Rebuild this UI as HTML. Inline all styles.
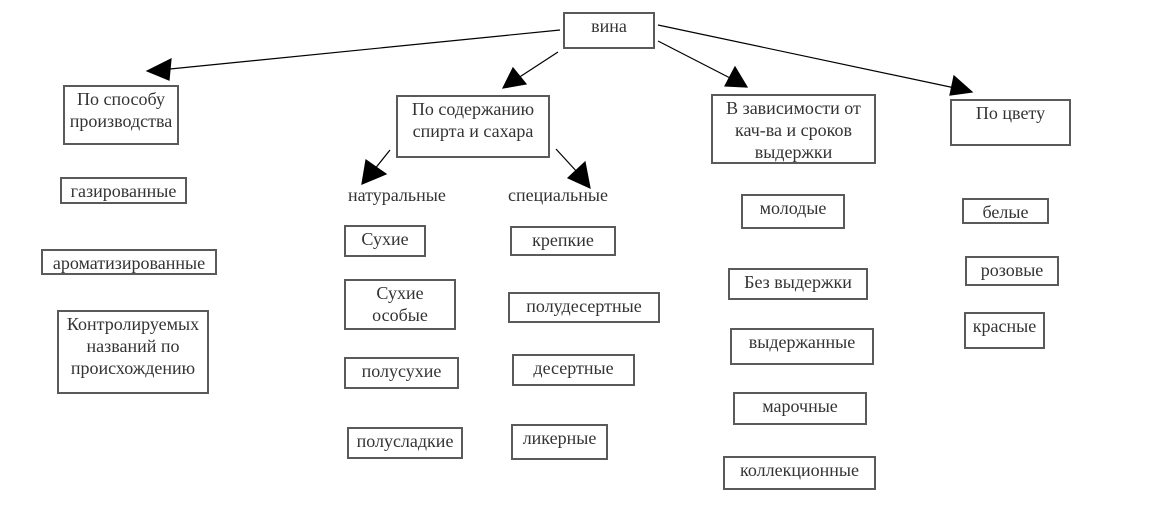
<!DOCTYPE html>
<html><head><meta charset="utf-8"><style>
body{margin:0;width:1158px;height:527px;background:#fff;position:relative;overflow:hidden}
.b{position:absolute;box-sizing:border-box;border:2px solid #5a5a5a;text-align:center;color:#333;line-height:22px;padding-top:1px;font-family:"Liberation Serif",serif;font-size:18px;white-space:nowrap}
.t{position:absolute;color:#333;font-family:"Liberation Serif",serif;font-size:18px}
svg{position:absolute;left:0;top:0}
</style></head><body>
<svg width="1158" height="527">
<g stroke="#000" stroke-width="1.2">
<line x1="560" y1="30" x2="160" y2="70"/><path d="M147,71 L171,59 L169,80 z" fill="#000"/>
<line x1="558" y1="52" x2="515" y2="80"/><path d="M503,88 L513,68 L526,84 z" fill="#000"/>
<line x1="658" y1="41" x2="732" y2="79"/><path d="M747,87 L725,86 L735,67 z" fill="#000"/>
<line x1="658" y1="25" x2="955" y2="88"/><path d="M972,92 L950,95 L954,76 z" fill="#000"/>
<line x1="390" y1="150" x2="374" y2="170"/><path d="M362,184 L366,160 L386,174 z" fill="#000"/>
<line x1="556" y1="149" x2="578" y2="173"/><path d="M590,188 L568,178 L585,162 z" fill="#000"/>
</g></svg>
<div class="b" style="left:563px;top:12px;width:92px;height:37px">вина</div>
<div class="b" style="left:63px;top:85px;width:116px;height:60px">По способу<br>производства</div>
<div class="b" style="left:396px;top:95px;width:154px;height:63px">По содержанию<br>спирта и сахара</div>
<div class="b" style="left:711px;top:94px;width:165px;height:70px">В зависимости от<br>кач-ва и сроков<br>выдержки</div>
<div class="b" style="left:950px;top:99px;width:121px;height:47px">По цвету</div>
<div class="b" style="left:60px;top:177px;width:127px;height:27px">газированные</div>
<div class="b" style="left:41px;top:249px;width:176px;height:26px">ароматизированные</div>
<div class="b" style="left:57px;top:310px;width:152px;height:84px">Контролируемых<br>названий по<br>происхождению</div>
<div class="t" style="left:348px;top:185px">натуральные</div>
<div class="t" style="left:508px;top:185px">специальные</div>
<div class="b" style="left:344px;top:225px;width:82px;height:32px">Сухие</div>
<div class="b" style="left:344px;top:279px;width:112px;height:51px">Сухие<br>особые</div>
<div class="b" style="left:344px;top:357px;width:115px;height:32px">полусухие</div>
<div class="b" style="left:347px;top:427px;width:116px;height:32px">полусладкие</div>
<div class="b" style="left:510px;top:226px;width:106px;height:30px">крепкие</div>
<div class="b" style="left:508px;top:292px;width:152px;height:31px">полудесертные</div>
<div class="b" style="left:512px;top:354px;width:123px;height:32px">десертные</div>
<div class="b" style="left:511px;top:424px;width:97px;height:36px">ликерные</div>
<div class="b" style="left:741px;top:194px;width:104px;height:35px">молодые</div>
<div class="b" style="left:728px;top:268px;width:140px;height:32px">Без выдержки</div>
<div class="b" style="left:730px;top:328px;width:144px;height:37px">выдержанные</div>
<div class="b" style="left:733px;top:392px;width:134px;height:33px">марочные</div>
<div class="b" style="left:723px;top:456px;width:153px;height:34px">коллекционные</div>
<div class="b" style="left:962px;top:198px;width:87px;height:26px">белые</div>
<div class="b" style="left:965px;top:256px;width:94px;height:30px">розовые</div>
<div class="b" style="left:964px;top:312px;width:81px;height:37px">красные</div>
</body></html>
